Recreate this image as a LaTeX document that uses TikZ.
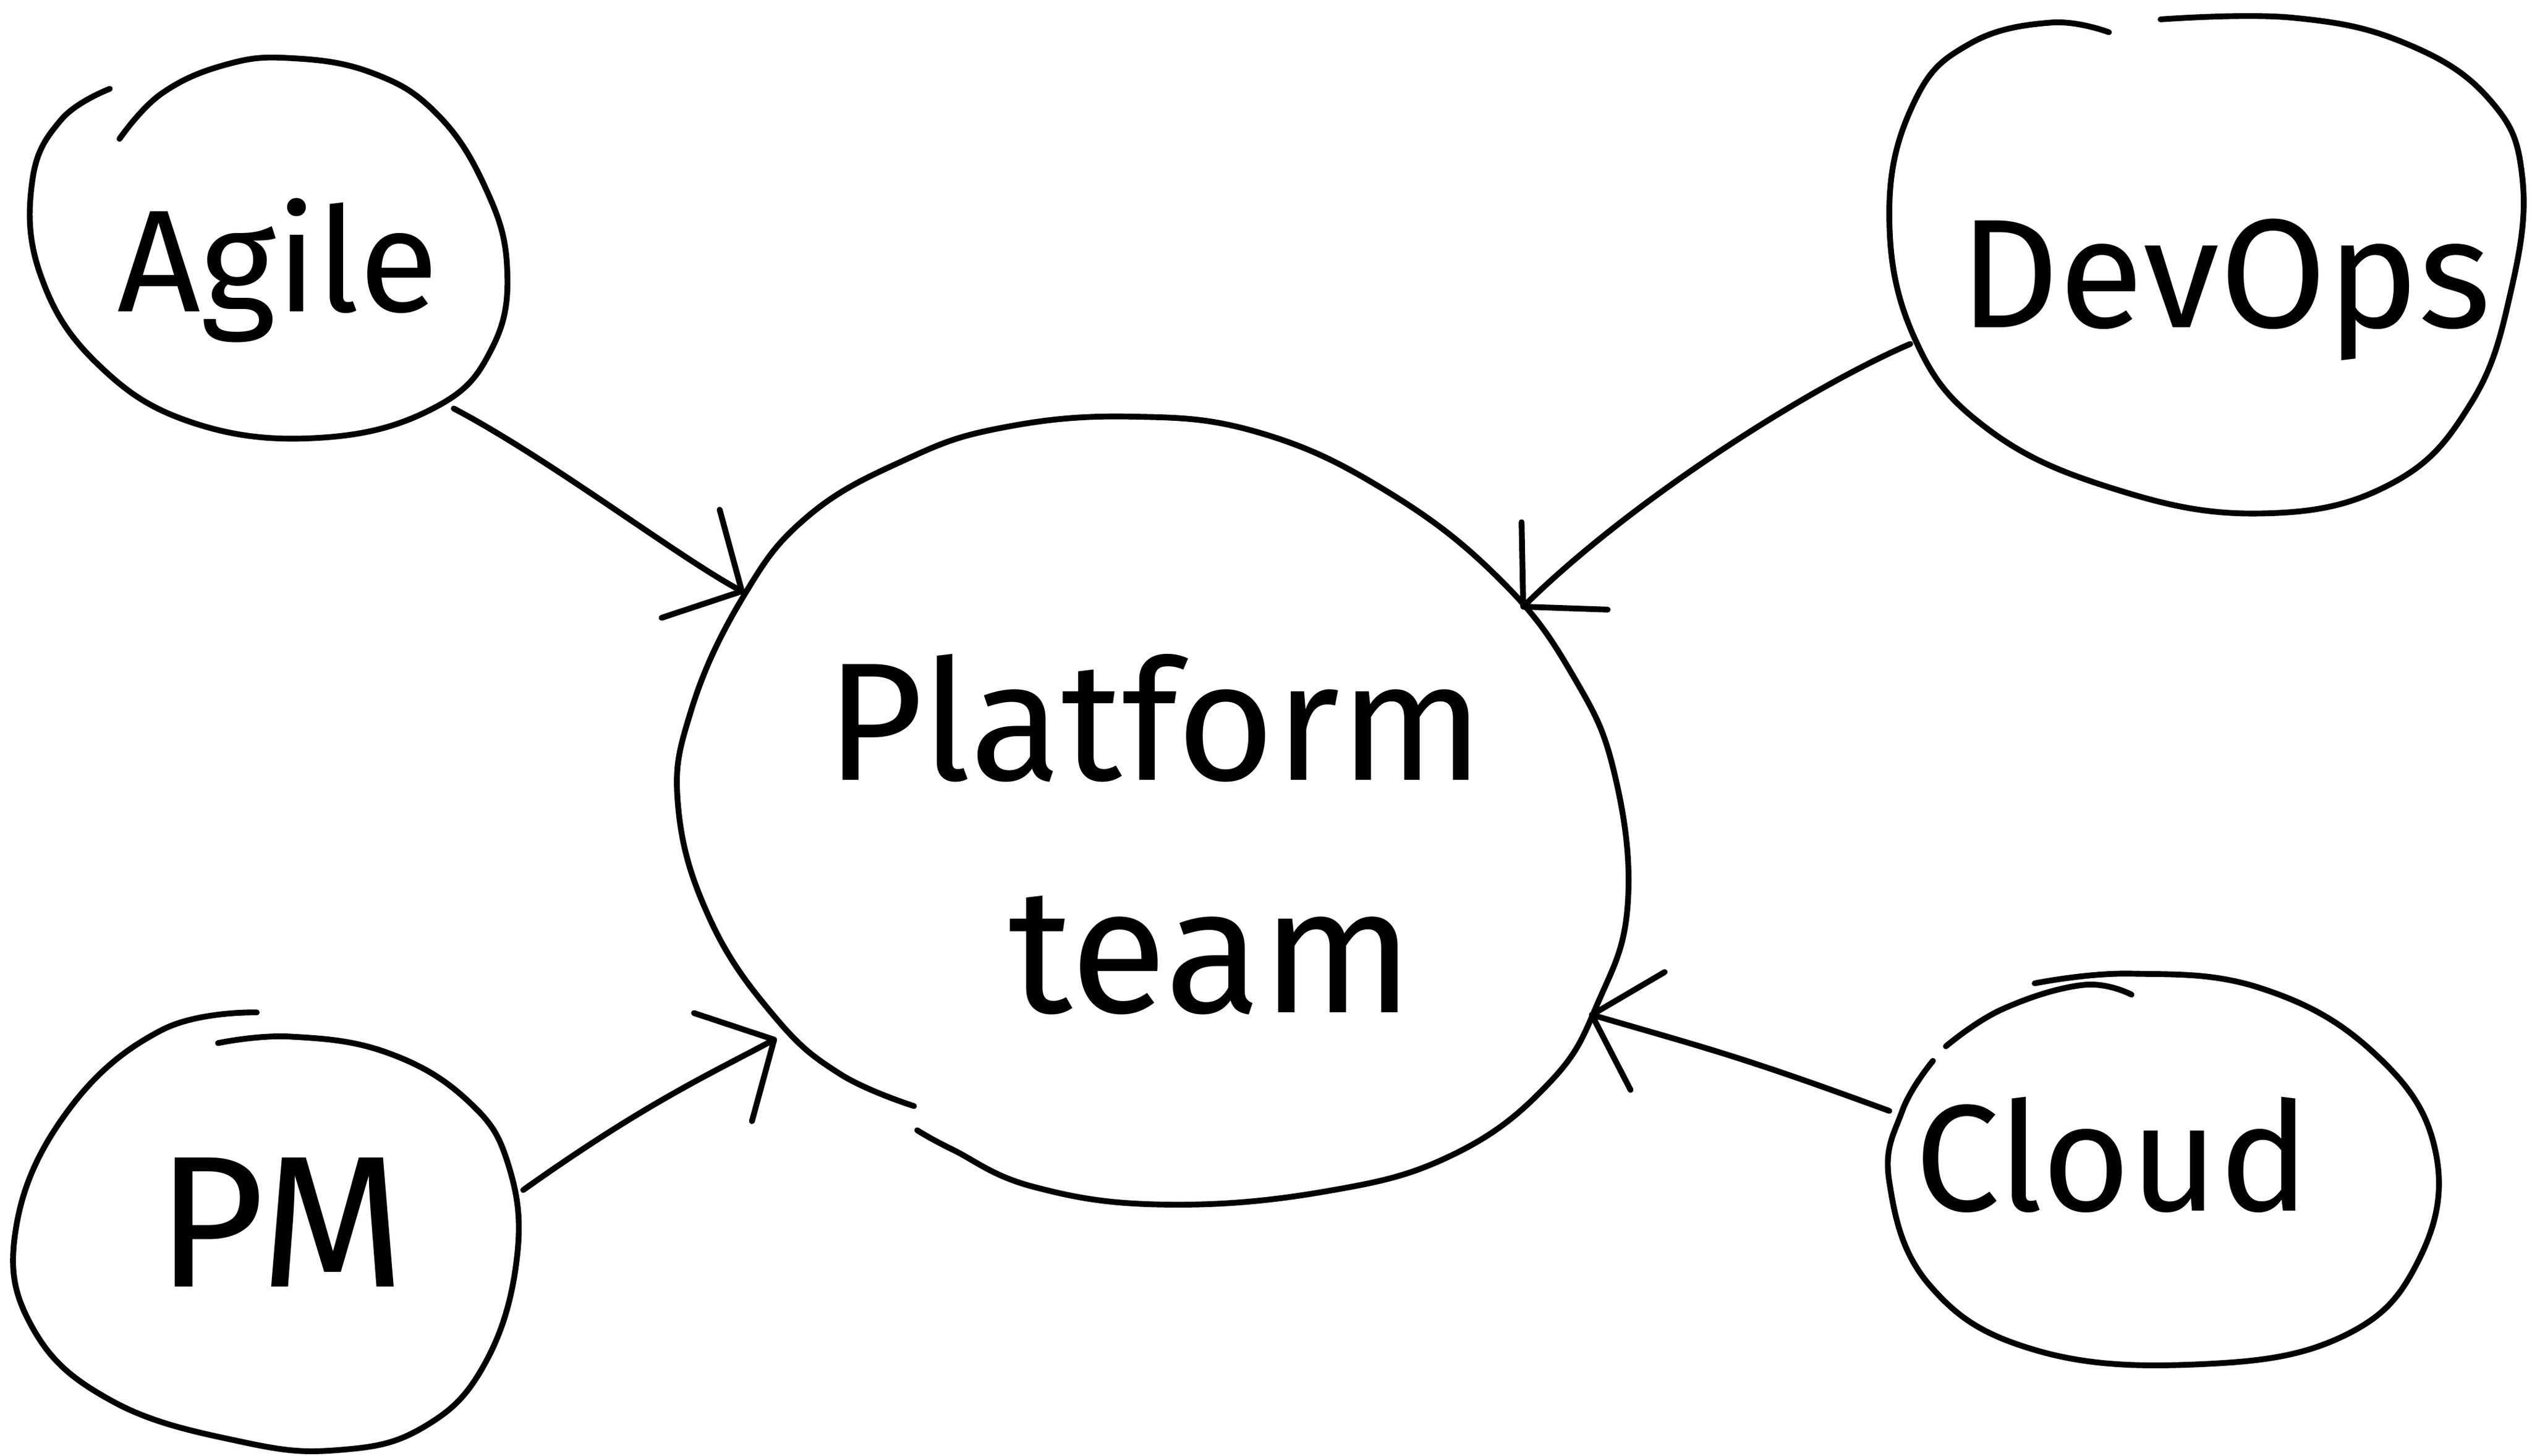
\documentclass[tikz,border=0pt]{standalone}
\usepackage{fontspec}
\setmainfont{Fira Sans}
\usetikzlibrary{arrows.meta}
\begin{document}
\begin{tikzpicture}[x=1pt,y=-1pt,line cap=round,line join=round,
  ink/.style={line width=3.6pt,black},
  blob/.style={ink},
  lbl/.style={font=\fontsize{100}{110}\selectfont,inner sep=0pt,anchor=base},
  arr/.style={ink,-{Straight Barb[length=36pt,width=76pt,line width=3.6pt,round]}}]
\useasboundingbox (0,0) rectangle (1568,901.4);
\fill[white] (0,0) rectangle (1568,901.4);

% blobs
\draw[blob] plot[smooth,tension=0.7] coordinates {(74,86) (100,58) (140,40) (180,36) (230,45) (270,70) (300,115) (314,165) (305,215) (270,252) (200,271) (120,262) (60,225) (25,170) (20,112) (38,74) (68,55)};
\draw[blob] plot[smooth,tension=0.7] coordinates {(566,685) (520,665) (480,630) (440,570) (420,500) (428,440) (460,370) (500,320) (560,285) (620,265) (700,258) (780,268) (860,305) (930,360) (975,420) (1000,480) (1008,560) (990,620) (960,670) (900,715) (820,738) (720,746) (640,735) (590,712) (568,700)};
\draw[blob] plot[smooth,tension=0.7] coordinates {(1306,20) (1270,14) (1220,27) (1186,62) (1170,130) (1185,208) (1230,265) (1310,303) (1400,318) (1480,300) (1530,250) (1555,180) (1562,110) (1542,62) (1490,27) (1420,11) (1338,12)};
\draw[blob] plot[smooth,tension=0.7] coordinates {(1205,648) (1240,625) (1290,610) (1320,616)};
\draw[blob] plot[smooth,tension=0.7] coordinates {(1260,609) (1320,603) (1400,612) (1470,652) (1508,712) (1498,780) (1450,828) (1360,845) (1260,836) (1195,796) (1170,732) (1178,688) (1197,657)};
\draw[blob] plot[smooth,tension=0.7] coordinates {(159,627) (100,638) (42,688) (10,760) (20,822) (70,868) (150,893) (210,898) (262,884) (300,845) (320,780) (315,722) (290,682) (240,652) (180,642) (135,646)};

% labels
\node[lbl,font=\fontsize{90}{100}\selectfont] (agile) at (172,193) {Agile};
\node[lbl,font=\fontsize{96}{106}\selectfont] (devops) at (1378,203) {DevOps};
\node[lbl,font=\fontsize{104}{114}\selectfont] (platform) at (715,483) {Platform};
\node[lbl,font=\fontsize{110}{120}\selectfont] (team) at (750,627) {team};
\node[lbl,font=\fontsize{94}{104}\selectfont] (cloud) at (1308,750) {Cloud};
\node[lbl,font=\fontsize{116}{126}\selectfont] (pm) at (174,797) {PM};

% connector ends
\coordinate (agileOut) at (281,253);
\coordinate (platA) at (461,367);
\coordinate (devopsOut) at (1183,213);
\coordinate (platD) at (942,377);
\coordinate (cloudOut) at (1170,688);
\coordinate (platC) at (984,628);
\coordinate (pmOut) at (324,737);
\coordinate (platP) at (481,643);

% connectors
\draw[arr] (agileOut) .. controls (340,284) and (420,345) .. (platA);
\draw[arr] (devopsOut) .. controls (1120,240) and (1010,310) .. (platD);
\draw[arr] (cloudOut) .. controls (1080,655) and (1060,650) .. (platC);
\draw[arr] (pmOut) .. controls (400,683) and (440,665) .. (platP);
\end{tikzpicture}
\end{document}
